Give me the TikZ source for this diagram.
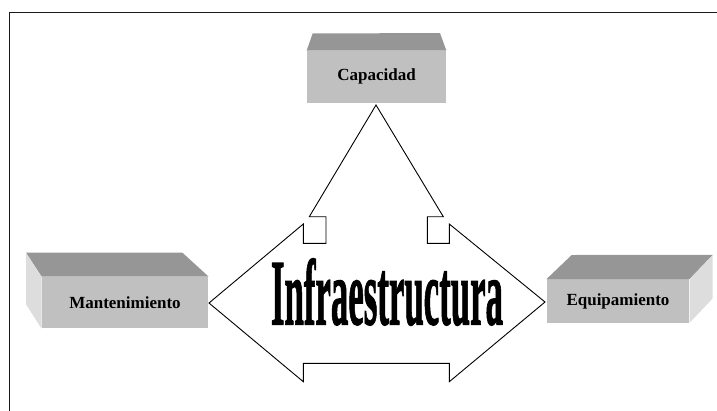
\documentclass[tikz,border=0pt]{standalone}
\usepackage{fontspec}
\setmainfont{Liberation Serif}
\newfontfamily\artfont[FakeBold=1.5]{Liberation Serif Bold}
\usepackage{graphicx}

\definecolor{frontgray}{HTML}{C0C0C0}
\definecolor{topgray}{HTML}{969696}
\definecolor{sidegray}{HTML}{DDDDDD}
\definecolor{framegray}{HTML}{1A1A1A}

\tikzset{
  frontface/.style={fill=frontgray, draw=none, inner sep=0pt,
    font=\fontsize{17}{20}\selectfont\bfseries},
  topface/.style={fill=topgray, draw=none},
  sideface/.style={fill=sidegray, draw=none},
  outline/.style={draw=black, line width=0.9pt, fill=white, line join=miter},
  border/.style={draw=framegray, line width=1.6pt}
}

\begin{document}
\begin{tikzpicture}[x=1pt, y=-1pt]
  \useasboundingbox (0,0) rectangle (717,410);

  % outer frame (runs past the right and lower edges)
  \begin{scope}
    \clip (0,0) rectangle (717,410);
    \draw[border] (9.5,430) -- (9.5,12.5) -- (740,12.5);
  \end{scope}

  % --- block: Capacidad (top centre) ---
  \node[frontface, minimum width=139.3pt, minimum height=52pt]
    (cap) at (376.5,76.8) {Capacidad};
  \fill[topface] (cap.north west) -- (cap.north east)
    -- ++(-6.3,-17.4) -- (312.7,33.3) -- cycle;

  % --- block: Mantenimiento (left) ---
  \node[frontface, minimum width=166.6pt, minimum height=51.6pt]
    (man) at (125,302.5) {Mantenimiento};
  \fill[topface] (man.north west) -- (man.north east)
    -- ++(-26.3,-24) -- (26,252.7) -- cycle;
  \fill[sideface] (man.north west) -- (26,252.7) -- (26,304.3)
    -- (man.south west) -- cycle;

  % --- block: Equipamiento (right) ---
  \node[frontface, minimum width=142.6pt, minimum height=43.4pt]
    (equ) at (618,301) {Equipamiento};
  \fill[topface] (equ.north west) -- (equ.north east)
    -- ++(23.4,-24.3) -- (571.7,255) -- cycle;
  \fill[sideface] (equ.north east) -- (712.7,255) -- (712.7,298.4)
    -- (equ.south east) -- cycle;

  % --- three-way arrow joining the blocks ---
  \coordinate (apex) at (376,105);
  \coordinate (ltip) at (209,303);
  \coordinate (rtip) at (545,302);
  \draw[outline]
    (ltip) -- (303.3,224) -- (303.3,243.3) -- (326,243.3) -- (326,216.7)
    -- (309.3,216.7) -- (apex) -- (443.3,216.7) -- (427.3,216.7)
    -- (427.3,243.3) -- (449.3,243.3) -- (449.3,224) -- (rtip)
    -- (449.3,381.7) -- (449.3,363.3) -- (303.3,363.3) -- (303.3,381.7)
    -- cycle;

  % --- central title ---
  \node[inner sep=0pt] (infra) at (387,292)
    {\resizebox{232pt}{66pt}{\artfont Infraestructura}};
\end{tikzpicture}
\end{document}
